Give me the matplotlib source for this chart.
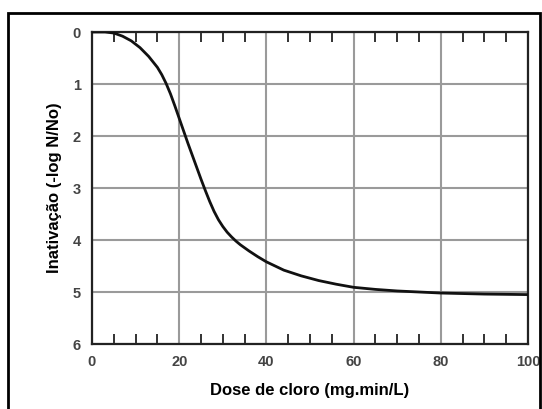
import numpy as np
import matplotlib.pyplot as plt
from matplotlib.patches import Rectangle

# dose de cloro (mg.min/L) vs inativação (-log N/No)
dose = [0, 3, 5, 7, 9, 11, 13, 15, 16, 17, 18, 19, 20, 21, 22, 23, 24, 25,
        26, 27, 28, 29, 30, 31, 32, 33, 34, 36, 38, 40, 44, 48, 52, 56, 60,
        65, 70, 75, 80, 90, 100]
inativacao = [0, 0, 0.02, 0.08, 0.17, 0.3, 0.47, 0.68, 0.82, 0.99, 1.19,
              1.42, 1.66, 1.9, 2.14, 2.37, 2.6, 2.83, 3.05, 3.26, 3.45, 3.61,
              3.74, 3.85, 3.94, 4.02, 4.09, 4.21, 4.32, 4.42, 4.58, 4.69,
              4.78, 4.85, 4.91, 4.95, 4.98, 5.0, 5.02, 5.04, 5.05]

x_ticks = [0, 20, 40, 60, 80, 100]
y_ticks = [0, 1, 2, 3, 4, 5, 6]

plt.rcParams["font.family"] = ["Liberation Sans", "DejaVu Sans"]

fig = plt.figure(figsize=(5.42, 4.09), dpi=100)
ax = fig.add_axes([92 / 542, 1 - 344 / 409, 436 / 542, 312 / 409])

# outer frame around the whole picture
fig.patches.append(Rectangle((8 / 542, -0.02), 532 / 542, 1 - 13 / 409 + 0.02,
                             transform=fig.transFigure, fill=False,
                             edgecolor="black", linewidth=2))

ax.plot(dose, inativacao, color="#111111", linewidth=2, zorder=3)

ax.set_xlim(0, 100)
ax.set_ylim(6, 0)
ax.set_xticks(x_ticks)
ax.set_yticks(y_ticks)
ax.set_xticks(np.arange(0, 101, 5), minor=True)

ax.grid(True, which="major", color="#9a9a9a", linewidth=1.5)
ax.tick_params(axis="x", which="minor", direction="in", length=7, width=1.3,
               top=True, bottom=True, color="#222222")
ax.tick_params(axis="x", which="major", direction="in", length=0, pad=8,
               labelsize=10.5, labelcolor="#444444")
ax.tick_params(axis="y", which="major", length=0, pad=8,
               labelsize=10.5, labelcolor="#444444")
for lab in ax.get_xticklabels() + ax.get_yticklabels():
    lab.set_fontweight("bold")

for side in ax.spines.values():
    side.set_linewidth(1.6)
    side.set_color("#222222")

ax.set_xlabel("Dose de cloro (mg.min/L)", fontsize=12, fontweight="bold", labelpad=10)
ax.set_ylabel("Inativação (-log N/No)", fontsize=12, fontweight="bold", labelpad=8)

fig.savefig("out.png", dpi=100)
